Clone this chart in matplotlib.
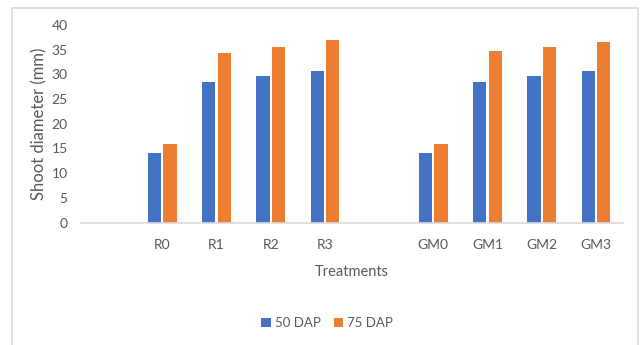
import numpy as np
import matplotlib
matplotlib.use("Agg")
import matplotlib.pyplot as plt
from matplotlib.patches import Rectangle

# Treatments (blank slots keep the gaps between groups)
treatments = ["", "R0", "R1", "R2", "R3", "", "GM0", "GM1", "GM2", "GM3"]
dap50 = [np.nan, 14.1, 28.5, 29.6, 30.7, np.nan, 14.0, 28.5, 29.7, 30.7]
dap75 = [np.nan, 15.8, 34.4, 35.6, 37.0, np.nan, 16.0, 34.8, 35.5, 36.5]
yticks = [0, 5, 10, 15, 20, 25, 30, 35, 40]

BLUE = "#4472C4"
ORANGE = "#ED7D31"
TEXT = "#595959"
FONT = ["Lato", "DejaVu Sans"]

plt.rcParams["font.family"] = FONT

W, H = 644, 345
fig = plt.figure(figsize=(W / 100, H / 100), dpi=100)
fig.patch.set_facecolor("white")

# Chart frame
fig.patches.append(Rectangle((12.5 / W, -0.05), (638 - 12.5) / W, 1.05 - 7.5 / H,
                             transform=fig.transFigure, fill=False,
                             edgecolor="#d9d9d9", linewidth=1.2))

ax = fig.add_axes([81 / W, 1 - 222.5 / H, (623 - 81) / W, (222.5 - 25) / H])
x = np.arange(len(treatments))
bw = 0.245
off = 0.143
ax.bar(x - off, dap50, bw, color=BLUE, label="50 DAP")
ax.bar(x + off, dap75, bw, color=ORANGE, label="75 DAP")

ax.set_xlim(-0.5, len(treatments) - 0.5)
ax.set_ylim(0, 40)
ax.set_yticks(yticks)
ax.set_xticks(x)
ax.set_xticklabels(treatments)
for s in ["top", "right", "left"]:
    ax.spines[s].set_visible(False)
ax.spines["bottom"].set_color("#d9d9d9")
ax.spines["bottom"].set_linewidth(1.2)
ax.tick_params(axis="both", length=0, colors=TEXT, labelsize=10)
ax.tick_params(axis="y", pad=9.5)
ax.tick_params(axis="x", pad=12)
ax.set_ylabel("Shoot diameter (mm)", color=TEXT, fontsize=12, labelpad=3)
ax.set_xlabel("Treatments", color=TEXT, fontsize=10.5, labelpad=10)

leg = fig.legend(loc="center", bbox_to_anchor=(327 / W, 1 - 323 / H), ncol=2,
                 frameon=False, fontsize=9.5, handlelength=0.7, handleheight=0.7,
                 handletextpad=0.3, columnspacing=1.0)
for t in leg.get_texts():
    t.set_color(TEXT)

fig.savefig("out.png", dpi=100, facecolor="white")
